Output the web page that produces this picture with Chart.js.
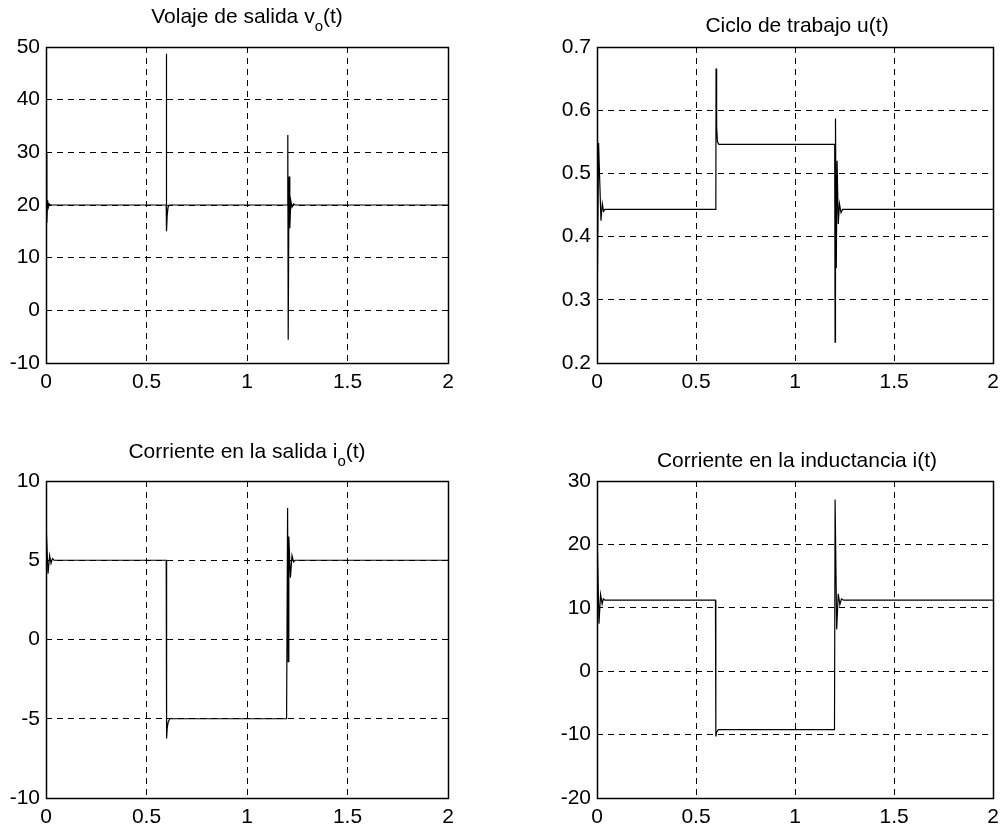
<!DOCTYPE html>
<html><head><meta charset="utf-8">
<script src="https://cdn.jsdelivr.net/npm/chart.js@4"></script>
<style>
html,body{margin:0;padding:0;background:#fff;}
#wrap{position:relative;width:1006px;height:830px;overflow:hidden;background:#fff;}
canvas{position:absolute;}
.ttl{position:absolute;font-family:"Liberation Sans",Arial,sans-serif;font-size:21px;line-height:21px;color:#000;white-space:nowrap;transform:translateX(-50%);}
.ttl sub{font-size:15px;vertical-align:baseline;position:relative;top:8px;}
</style></head>
<body>
<div id="wrap">
  <canvas id="c1" width="503" height="415" style="left:0;top:0"></canvas>
  <canvas id="c2" width="503" height="415" style="left:503px;top:0"></canvas>
  <canvas id="c3" width="503" height="415" style="left:0;top:415px"></canvas>
  <canvas id="c4" width="503" height="415" style="left:503px;top:415px"></canvas>
  <div class="ttl" style="left:247px;top:5px">Volaje de salida v<sub>o</sub>(t)</div>
  <div class="ttl" style="left:797px;top:14px">Ciclo de trabajo u(t)</div>
  <div class="ttl" style="left:247px;top:440px">Corriente en la salida i<sub>o</sub>(t)</div>
  <div class="ttl" style="left:797px;top:449px">Corriente en la inductancia i(t)</div>
</div>
<script>
// Tick labels
const xTicks = [0, 0.5, 1, 1.5, 2];
const voTicks = [-10, 0, 10, 20, 30, 40, 50];
const uTicks = [0.2, 0.3, 0.4, 0.5, 0.6, 0.7];
const ioTicks = [-10, -5, 0, 5, 10];
const iTicks = [-20, -10, 0, 10, 20, 30];

// Output voltage vo(t)
const tVo = [0, 0.004, 0.008, 0.012, 0.016, 0.022, 0.598, 0.599, 0.600, 0.603, 0.607, 0.612, 1.200, 1.203, 1.205, 1.209, 1.213, 1.218, 1.224, 1.232, 1.240, 2];
const vo  = [29.8, 16.6, 20.9, 19.6, 20.2, 20, 20, 48.7, 15.0, 18.0, 19.5, 20, 20, 33.3, -5.6, 25.4, 15.6, 20.8, 19.6, 20.2, 20, 20];

// Duty cycle u(t)
const tU = [0, 0.008, 0.020, 0.027, 0.033, 0.040, 0.600, 0.601, 0.604, 0.608, 0.615, 1.200, 1.202, 1.204, 1.208, 1.212, 1.218, 1.224, 1.232, 1.240, 2];
const u  = [0.257, 0.548, 0.425, 0.452, 0.440, 0.443, 0.443, 0.666, 0.575, 0.550, 0.546, 0.546, 0.233, 0.587, 0.350, 0.520, 0.420, 0.452, 0.438, 0.443, 0.443];

// Output current io(t)
const tIo = [0, 0.010, 0.018, 0.025, 0.032, 0.040, 0.598, 0.600, 0.603, 0.608, 0.616, 1.197, 1.202, 1.205, 1.208, 1.216, 1.224, 1.232, 1.240, 2];
const io  = [7.4, 4.15, 5.3, 4.8, 5.1, 5, 5, -6.25, -5.6, -5.2, -5, -5, 8.3, -1.4, 6.5, 3.9, 5.3, 4.9, 5, 5];

// Inductor current i(t)
const tI = [0, 0.010, 0.018, 0.026, 0.032, 0.040, 0.598, 0.600, 0.604, 0.613, 1.199, 1.202, 1.210, 1.218, 1.226, 1.234, 1.245, 2];
const iL = [22.8, 7.5, 12.1, 10.6, 11.4, 11.2, 11.2, -10.3, -9.6, -9.2, -9.2, 27.1, 6.6, 12.2, 10.5, 11.4, 11.2, 11.2];

const FONT = {family: '"Liberation Sans", Arial, sans-serif', size: 21};
const boxPlugin = {
  id: 'box',
  afterDraw(chart) {
    const a = chart.chartArea, c = chart.ctx;
    c.save();
    c.strokeStyle = '#000';
    c.lineWidth = 1.5;
    c.strokeRect(Math.round(a.left) + 0.5, Math.round(a.top) + 0.5, Math.round(a.right - a.left), Math.round(a.bottom - a.top));
    c.restore();
  }
};

function makeChart(id, t, y, yTicks, area, cv) {
  const yW = 40, xH = 30;
  const pts = t.map((tv, k) => ({x: tv, y: y[k]}));
  return new Chart(document.getElementById(id), {
    type: 'line',
    data: {datasets: [{data: pts, borderColor: '#000', borderWidth: 1.2, pointRadius: 0, tension: 0, fill: false}]},
    plugins: [boxPlugin],
    options: {
      responsive: false, animation: false, devicePixelRatio: 1,
      layout: {
        autoPadding: false,
        padding: {
          left: area.left - cv.left - yW,
          top: area.top - cv.top,
          right: cv.left + cv.w - area.right,
          bottom: cv.top + cv.h - area.bottom - xH
        }
      },
      plugins: {legend: {display: false}, tooltip: {enabled: false}, title: {display: false}},
      scales: {
        x: {
          type: 'linear', min: xTicks[0], max: xTicks[xTicks.length - 1],
          afterBuildTicks: s => { s.ticks = xTicks.map(v => ({value: v})); },
          afterFit: s => { s.height = xH; },
          grid: {color: '#000', lineWidth: 1, drawTicks: false},
          border: {display: false, dash: [6, 5]},
          ticks: {color: '#000', font: FONT, padding: 7, maxRotation: 0, autoSkip: false, callback: v => String(v)}
        },
        y: {
          type: 'linear', min: yTicks[0], max: yTicks[yTicks.length - 1],
          afterBuildTicks: s => { s.ticks = yTicks.map(v => ({value: v})); },
          afterFit: s => { s.width = yW; },
          grid: {color: '#000', lineWidth: 1, drawTicks: false},
          border: {display: false, dash: [6, 5]},
          ticks: {color: '#000', font: FONT, padding: 6, autoSkip: false, callback: v => String(v)}
        }
      }
    }
  });
}

makeChart('c1', tVo, vo, voTicks, {left: 46, top: 47, right: 448, bottom: 363}, {left: 0, top: 0, w: 503, h: 415});
makeChart('c2', tU, u, uTicks, {left: 597, top: 47, right: 998, bottom: 363}, {left: 503, top: 0, w: 503, h: 415});
makeChart('c3', tIo, io, ioTicks, {left: 46, top: 481, right: 448, bottom: 798}, {left: 0, top: 415, w: 503, h: 415});
makeChart('c4', tI, iL, iTicks, {left: 597, top: 481, right: 998, bottom: 798}, {left: 503, top: 415, w: 503, h: 415});
</script>
</body></html>
